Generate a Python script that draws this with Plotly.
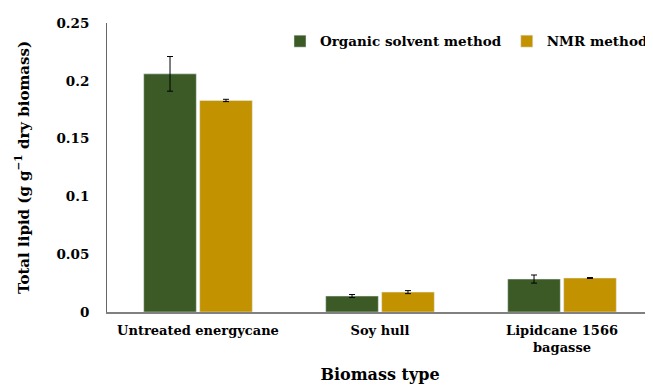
import plotly.graph_objects as go

categories = ["Untreated energycane", "Soy hull", "Lipidcane 1566<br>bagasse"]
organic = [0.206, 0.0138, 0.0285]
organic_err = [0.0150, 0.0013, 0.0035]
nmr = [0.183, 0.0172, 0.0294]
nmr_err = [0.0010, 0.0013, 0.0004]
ytick_vals = [0, 0.05, 0.1, 0.15, 0.2, 0.25]
ytick_text = ["0", "0.05", "0.1", "0.15", "0.2", "0.25"]

FONT = "DejaVu Serif"
green = "#3B5A25"
gold = "#C29200"

fig = go.Figure()
fig.add_trace(go.Bar(
    x=categories, y=organic, name="Organic solvent method",
    marker=dict(color=green),
    error_y=dict(type="data", array=organic_err, color="black", thickness=1, width=3),
))
fig.add_trace(go.Bar(
    x=categories, y=nmr, name="NMR method",
    marker=dict(color=gold),
    error_y=dict(type="data", array=nmr_err, color="black", thickness=1, width=3),
))

fig.update_layout(
    width=645, height=378,
    margin=dict(l=99, r=0, t=15, b=74),
    plot_bgcolor="white", paper_bgcolor="white",
    barmode="group", bargap=0.385, bargroupgap=0.06,
    font=dict(family=FONT, size=13, color="black", weight="bold"),
    legend=dict(orientation="h", x=1.0, xanchor="right", y=0.99, yanchor="top",
                font=dict(family=FONT, size=13.5, weight="bold"),
                itemwidth=30, traceorder="normal", bgcolor="rgba(0,0,0,0)"),
    xaxis=dict(
        showline=True, linecolor="#808080", linewidth=2,
        showgrid=False, ticks="",
        tickfont=dict(family=FONT, size=13, weight="bold"),
        ticklabelstandoff=5,
        title=dict(text="Biomass type", font=dict(family=FONT, size=16, weight="bold"), standoff=15),
    ),
    yaxis=dict(
        range=[0, 0.25],
        tickvals=ytick_vals, ticktext=ytick_text,
        showline=True, linecolor="#666666", linewidth=1,
        showgrid=False, ticks="", zeroline=False,
        tickfont=dict(family=FONT, size=13.5, weight="bold"),
        ticklabelstandoff=14,
        title=dict(text="Total lipid (g g<sup>−1</sup> dry biomass)",
                   font=dict(family=FONT, size=15, weight="bold"), standoff=23),
    ),
)

fig.write_html("out.html")
